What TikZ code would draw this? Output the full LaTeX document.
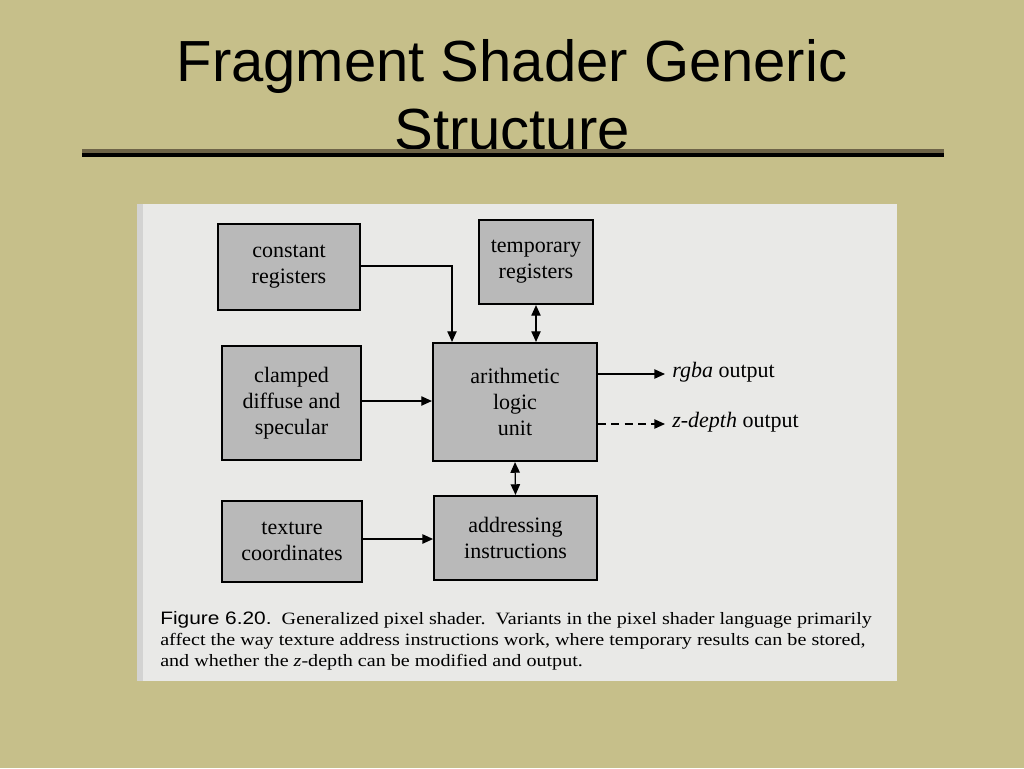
\documentclass[tikz,border=0pt]{standalone}
\usepackage{fontspec}
\setmainfont{Liberation Serif}
\newfontfamily\titlefont{Liberation Sans}
\usetikzlibrary{arrows.meta}
\definecolor{slide}{HTML}{C6BF8A}
\definecolor{page}{HTML}{E9E9E7}
\definecolor{boxg}{HTML}{B9B9B9}
\definecolor{shadowl}{HTML}{6E6448}
\begin{document}
\begin{tikzpicture}[x=0.75pt,y=-0.75pt,
  blk/.style={draw=black,line width=1.6pt,fill=boxg,font=\fontsize{16.5}{19.5}\selectfont,align=center,inner sep=0pt},
  conn/.style={line width=1pt,-{Triangle[length=8pt,width=7pt]}},
  bconn/.style={line width=1pt,{Triangle[length=8pt,width=7pt]}-{Triangle[length=8pt,width=7pt]}},
  lbl/.style={font=\fontsize{16.5}{19}\selectfont,anchor=west,inner sep=0pt},
  capl/.style={anchor=base west,inner sep=0pt,font=\fontsize{13}{15}\selectfont}]
\fill[slide] (0,0) rectangle (1024,768);
\useasboundingbox (0,0) rectangle (1024,768);
\node[font=\titlefont\fontsize{43.5}{51}\selectfont,align=center] (title) at (512,95) {Fragment Shader Generic\\Structure};
\draw[shadowl,line width=2.5pt] (82,151) -- (944,151);
\draw[black,line width=2.5pt] (82,155) -- (944,155);
\fill[page] (137,204) rectangle (897,681);
\fill[black!25,opacity=0.5] (137,204) rectangle (143,681);
\node[blk,minimum width=106.5pt,minimum height=64.5pt] (cr) at (289,267) {constant\\registers};
\node[blk,minimum width=85.5pt,minimum height=63pt] (tr) at (536,262) {temporary\\registers};
\node[blk,minimum width=104pt,minimum height=85.5pt] (cd) at (291.5,403) {clamped\\diffuse and\\specular};
\node[blk,minimum width=123pt,minimum height=88.5pt] (alu) at (515,402) {arithmetic\\logic\\unit};
\node[blk,minimum width=105pt,minimum height=61pt] (tc) at (292,541.5) {texture\\coordinates};
\node[blk,minimum width=122pt,minimum height=63pt] (ai) at (515.5,538) {addressing\\instructions};
\coordinate (c1) at (452,266);
\draw[conn] (cr.east |- c1) -- (c1) -- (c1 |- alu.north);
\draw[bconn] (tr.south) -- (tr.south |- alu.north);
\draw[conn] (cd.east |- 0,401) -- (alu.west |- 0,401);
\draw[bconn] (alu.south) -- (ai.north);
\draw[conn] (tc.east |- 0,539) -- (ai.west |- 0,539);
\coordinate (ro) at (665,374);
\coordinate (zo) at (665,424);
\draw[conn] (alu.east |- ro) -- (ro);
\draw[conn,dashed,dash pattern=on 6pt off 4pt] (alu.east |- zo) -- (zo);
\node[lbl] (rl) at (672,372) {\textit{rgba} output};
\node[lbl] (zl) at (672,422) {\textit{z-depth} output};
\node[capl] (cap1) at (160,624) {\scalebox{1.16}[1]{{\titlefont\fontsize{13.5}{15}\selectfont Figure 6.20.}\ \ Generalized pixel shader.\ \ Variants in the pixel shader language primarily}};
\node[capl] (cap2) at (160,645) {\scalebox{1.16}[1]{affect the way texture address instructions work, where temporary results can be stored,}};
\node[capl] (cap3) at (160,666) {\scalebox{1.16}[1]{and whether the \textit{z}-depth can be modified and output.}};
\end{tikzpicture}
\end{document}
